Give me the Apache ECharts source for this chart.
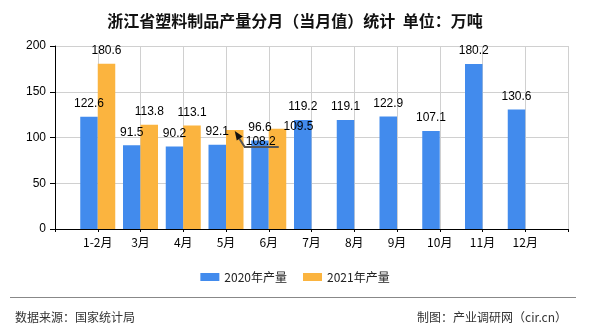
<!DOCTYPE html>
<html>
<head>
<meta charset="utf-8">
<script src="https://cdn.jsdelivr.net/npm/echarts@6/dist/echarts.min.js"></script>
<style>
html,body{margin:0;padding:0;background:#fff;}
#c{width:590px;height:330px;}
</style>
</head>
<body>
<div id="c"></div>
<script>
var months = ['1-2月','3月','4月','5月','6月','7月','8月','9月','10月','11月','12月'];
var values2020 = [122.6, 91.5, 90.2, 92.1, 96.6, 119.2, 119.1, 122.9, 107.1, 180.2, 130.6];
var values2021 = [180.6, 113.8, 113.1, 108.2, 109.5];
var yTicks = [0, 50, 100, 150, 200];
var seriesNames = ['2020年产量', '2021年产量'];

var cats = [''].concat(months).concat(['']);
function pad(arr){
  var out = ['-'];
  for (var i = 0; i < months.length; i++) out.push(i < arr.length ? arr[i] : '-');
  out.push('-');
  return out;
}
var d2020 = pad(values2020);
var d2021 = pad(values2021);

var FONT = '"Noto Sans CJK SC", "Liberation Sans", sans-serif';
var BAR_W = 17.5;
var chart = echarts.init(document.getElementById('c'), null, {renderer: 'canvas'});
chart.setOption({
  animation: false,
  backgroundColor: '#fff',
  textStyle: {fontFamily: FONT},
  title: [
    {text: '浙江省塑料制品产量分月（当月值）统计  单位：万吨', left: 'center', top: 8,
     textStyle: {fontSize: 16, fontWeight: 'bold', color: '#111', fontFamily: FONT}},
    {text: '数据来源：国家统计局', left: 10, top: 306,
     textStyle: {fontSize: 12, fontWeight: 'normal', color: '#333', fontFamily: FONT}},
    {text: '制图：产业调研网（cir.cn）', right: 18, top: 306,
     textStyle: {fontSize: 12, fontWeight: 'normal', color: '#333', fontFamily: FONT}}
  ],
  legend: {
    bottom: 42, left: 'center',
    itemWidth: 19, itemHeight: 8, itemGap: 16,
    textStyle: {fontSize: 12, color: '#222', fontFamily: FONT},
    icon: 'rect',
    data: seriesNames
  },
  grid: {left: 55, right: 22, top: 46, bottom: 101, containLabel: false},
  xAxis: {
    type: 'category', data: cats, boundaryGap: false,
    axisLine: {lineStyle: {color: '#000', width: 1}},
    axisTick: {show: true, length: 3, interval: 0, lineStyle: {color: '#000'}},
    axisLabel: {interval: 0, color: '#000', fontSize: 12, margin: 7, fontFamily: FONT},
    splitLine: {show: true, interval: 0, lineStyle: {color: '#d0d0d0', width: 1}}
  },
  yAxis: {
    type: 'value', min: yTicks[0], max: yTicks[yTicks.length-1], interval: 50,
    axisLine: {show: true, lineStyle: {color: '#000', width: 1}},
    axisTick: {show: true, length: 5, lineStyle: {color: '#000'}},
    axisLabel: {color: '#000', fontSize: 12, margin: 9, fontFamily: '"Liberation Sans", sans-serif'},
    splitLine: {show: true, lineStyle: {color: '#d0d0d0', width: 1}}
  },
  series: [
    {
      name: seriesNames[0], type: 'bar', data: d2020, barWidth: BAR_W, barGap: '0%',
      itemStyle: {color: '#428bed'},
      label: {show: true, position: 'top', distance: 7, color: '#000', fontSize: 12,
              fontFamily: '"Liberation Sans", sans-serif'}
    },
    {
      name: seriesNames[1], type: 'bar', data: d2021, barWidth: BAR_W, barGap: '0%',
      itemStyle: {color: '#fbb43f'},
      label: {show: true, position: 'top', distance: 7, color: '#000', fontSize: 12,
              fontFamily: '"Liberation Sans", sans-serif'},
      labelLayout: function(p){
        if (p.dataIndex === 4) return {dx: 26, dy: 25};
        if (p.dataIndex === 5) return {dx: 21, dy: 11};
        return {};
      }
    }
  ]
});

// footer separator and the label-guide arrow for the displaced 5月 label
var pt = chart.convertToPixel({xAxisIndex: 0, yAxisIndex: 0}, [4, values2021[3]]);
var tx = pt[0] + BAR_W / 2, ty = pt[1] + 1;
chart.setOption({
  graphic: [
    {type: 'line', shape: {x1: 10, y1: 297.5, x2: 576, y2: 297.5},
     style: {stroke: '#888', lineWidth: 1.2}, silent: true},
    {type: 'polyline', shape: {points: [[tx + 4.5, ty + 7.5], [tx + 10, ty + 16], [tx + 44, ty + 16]]},
     style: {stroke: '#555', lineWidth: 2, fill: null}, silent: true, z: 100},
    {type: 'polygon', shape: {points: [[tx, ty], [tx + 8, ty + 5.5], [tx + 2, ty + 9.5]]},
     style: {fill: '#111'}, silent: true, z: 101}
  ]
});
</script>
</body>
</html>
